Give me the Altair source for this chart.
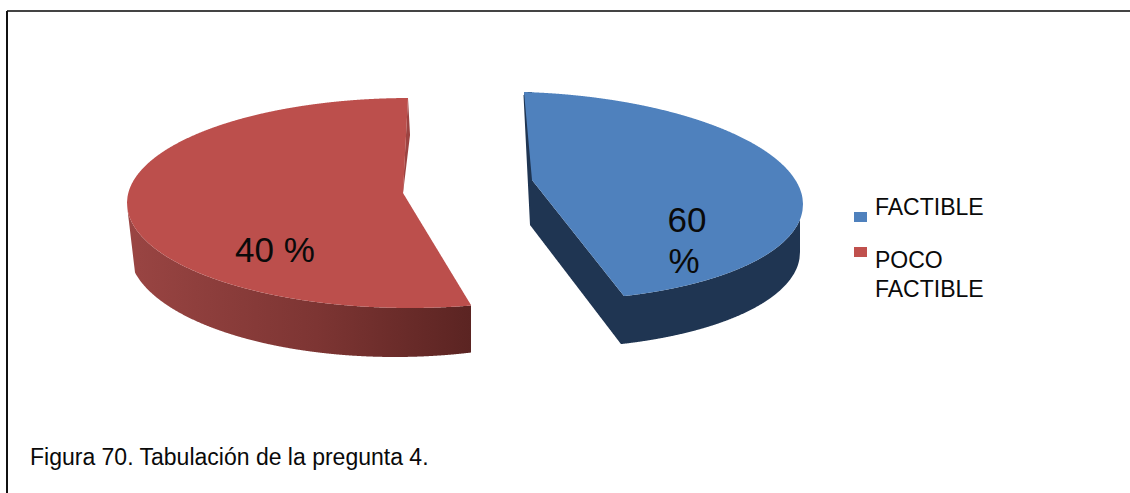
import numpy as np
import pandas as pd
import altair as alt

# Pie slices and legend entries
categories = ["FACTIBLE", "POCO FACTIBLE"]
shares = [60, 40]
slice_labels = ["60", "%", "40 %"]
caption = "Figura 70. Tabulación de la pregunta 4."

# Angular extent of each slice rim, degrees clockwise from twelve o'clock
blue_span = [0, 159]
red_span = [167.5, 359.6]

BLUE_FACE = "#4F81BD"
BLUE_WALL = "#1F3552"
RED_FACE = "#BC4F4C"
RED_SLIVER = "#9C4341"
FONT = "Liberation Sans"
W, H = 1130, 493

x_scale = alt.Scale(domain=[0, W], range=[0, W], nice=False, zero=False)
y_scale = alt.Scale(domain=[0, H], range=[0, H], nice=False, zero=False)


def rim(cx, cy, rx, ry, t0, t1, shear=0.0, n=240):
    """Outline of a tilted disc between two clock angles."""
    t = np.radians(np.linspace(t0, t1, n))
    x = cx + rx * np.sin(t)
    y = cy - ry * np.cos(t) + shear * (x - cx)
    return x, y


def along(px, py, xs):
    """Height of a polyline at the given x positions."""
    order = np.argsort(px)
    return np.interp(xs, np.asarray(px)[order], np.asarray(py)[order])


def band(xs, top, bottom):
    return pd.DataFrame({"x": xs, "y": top, "y2": bottom})


def area(df, fill):
    return alt.Chart(df).mark_area(color=fill, interpolate="linear", opacity=1).encode(
        x=alt.X("x:Q", scale=x_scale, axis=None),
        y=alt.Y("y:Q", scale=y_scale, axis=None),
        y2="y2:Q",
    )


# ---- blue slice ----
B = dict(cx=524, cy=196, rx=279, ry=104, shear=0.03)
B_bottom = dict(cx=521, cy=244, rx=279, ry=104, shear=0.03)
b_apex = (532, 180)
bx, by = rim(**B, t0=blue_span[0], t1=blue_span[1])
b_start = (bx[0], by[0])
b_corner = (bx[-1], by[-1])
right = int(np.argmax(bx))

xs = np.arange(b_start[0], bx[right] + 0.01, 0.5)
b_upper = along(bx[: right + 1], by[: right + 1], xs)
b_lower = np.where(
    xs <= b_apex[0],
    along([b_start[0], b_apex[0]], [b_start[1], b_apex[1]], xs),
    np.where(
        xs <= b_corner[0],
        along([b_apex[0], b_corner[0]], [b_apex[1], b_corner[1]], xs),
        along(bx[right:], by[right:], xs),
    ),
)
blue_face = band(xs, b_upper, b_lower)

wx, wy = rim(**B_bottom, t0=blue_span[0], t1=blue_span[1])
wright = int(np.argmax(wx))
b_floor = (b_corner[0] - 3, b_corner[1] + 48)
b_drop = (530, 225)
xw = np.arange(b_start[0] - 0.5, wx[wright] + 0.01, 0.5)
w_lower = np.where(
    xw <= b_drop[0],
    along([b_start[0] - 0.5, b_drop[0]], [b_start[1] + 3, b_drop[1]], xw),
    np.where(
        xw <= b_floor[0],
        along([b_drop[0], b_floor[0]], [b_drop[1], b_floor[1]], xw),
        along(wx[wright:], wy[wright:], xw),
    ),
)
w_upper = np.where(xw <= b_apex[0], b_start[1], along(xs, b_lower, xw))
w_upper = np.where(xw <= b_start[0], b_start[1] + 3, w_upper)
blue_wall = band(xw, w_upper, w_lower)

# ---- red slice ----
R = dict(cx=410, cy=203, rx=283, ry=105)
R_bottom = dict(cx=395, cy=250, rx=266, ry=107)
r_apex = (403, 193)
rx_, ry_ = rim(**R, t0=red_span[0], t1=red_span[1])
left = int(np.argmin(rx_))
r_corner = (rx_[0], ry_[0])
r_top = (rx_[-1], ry_[-1])

xa = np.arange(rx_[left], r_top[0] + 0.01, 0.5)
a_upper = along(rx_[left:], ry_[left:], xa)
a_lower = np.where(
    xa <= r_apex[0],
    along(rx_[: left + 1], ry_[: left + 1], xa),
    along([r_apex[0], r_top[0]], [r_apex[1], r_top[1]], xa),
)
red_face_a = band(xa, a_upper, a_lower)

# Lower lobe of the red face; starts left of the apex so the two parts overlap
xb = np.arange(r_apex[0] - 3, r_corner[0] + 0.01, 0.5)
red_face_b = band(
    xb,
    along([r_apex[0], r_corner[0]], [r_apex[1], r_corner[1]], xb),
    along(rx_[: left + 1], ry_[: left + 1], xb),
)

# Thin inner wall showing beside the upper cut of the red slice
xs_r = np.arange(r_apex[0], r_top[0] + 2.01, 0.25)
sliver_top = along([r_apex[0], r_top[0], r_top[0] + 2], [r_apex[1] - 4, r_top[1], 135], xs_r)
sliver_bottom = along([r_apex[0], r_top[0] + 2], [r_apex[1], 135], xs_r)
red_sliver = band(xs_r, np.minimum(sliver_top, sliver_bottom), sliver_bottom)

# Outer wall of the red slice, shaded from left to right
xr = np.arange(rx_[left], r_corner[0] + 0.01, 0.5)
r_wall_top = along(rx_[: left + 1], ry_[: left + 1], xr)
wrx, wry = rim(**R_bottom, t0=red_span[0] - 10, t1=270)
r_floor = along(wrx, wry, xr)
r_wall_bottom = np.where(xr < 135, along([rx_[left], 135], [r_wall_top[0] + 3, 272.5], xr), r_floor)
red_wall = band(xr, r_wall_top, r_wall_bottom)
red_wall_mark = alt.Chart(red_wall).mark_area(
    opacity=1,
    color=alt.Gradient(
        gradient="linear",
        x1=0, x2=1, y1=0, y2=0,
        stops=[
            alt.GradientStop(color="#9A4543", offset=0),
            alt.GradientStop(color="#8F3F3D", offset=0.2),
            alt.GradientStop(color="#7D3533", offset=0.55),
            alt.GradientStop(color="#5B2422", offset=1),
        ],
    ),
).encode(
    x=alt.X("x:Q", scale=x_scale, axis=None),
    y=alt.Y("y:Q", scale=y_scale, axis=None),
    y2="y2:Q",
)

# ---- figure frame: top and left edges only ----
top_edge = pd.DataFrame({"x": [7], "x2": [W], "y": [11]})
left_edge = pd.DataFrame({"x": [7], "y": [11], "y2": [H]})
top_mark = alt.Chart(top_edge).mark_rule(color="#444444", strokeWidth=2).encode(
    x=alt.X("x:Q", scale=x_scale, axis=None),
    x2="x2:Q",
    y=alt.Y("y:Q", scale=y_scale, axis=None),
)
left_mark = alt.Chart(left_edge).mark_rule(color="#111111", strokeWidth=2).encode(
    x=alt.X("x:Q", scale=x_scale, axis=None),
    y=alt.Y("y:Q", scale=y_scale, axis=None),
    y2="y2:Q",
)

# ---- legend ----
legend_keys = pd.DataFrame(
    {
        "x": [854, 854],
        "x2": [867, 867],
        "y": [212, 247],
        "y2": [222, 257],
        "category": categories,
    }
)
keys_mark = alt.Chart(legend_keys).mark_rect().encode(
    x=alt.X("x:Q", scale=x_scale, axis=None),
    x2="x2:Q",
    y=alt.Y("y:Q", scale=y_scale, axis=None),
    y2="y2:Q",
    color=alt.Color(
        "category:N",
        scale=alt.Scale(domain=categories, range=[BLUE_FACE, "#C0504D"]),
        legend=None,
    ),
)

legend_words = categories[1].split(" ")
texts = pd.DataFrame(
    [
        {"t": slice_labels[0], "x": 687, "y": 232, "s": 35, "a": "center"},
        {"t": slice_labels[1], "x": 684, "y": 273, "s": 35, "a": "center"},
        {"t": slice_labels[2], "x": 275, "y": 262, "s": 35, "a": "center"},
        {"t": categories[0], "x": 875, "y": 215, "s": 23, "a": "left"},
        {"t": legend_words[0], "x": 875, "y": 268, "s": 23, "a": "left"},
        {"t": legend_words[1], "x": 875, "y": 297, "s": 23, "a": "left"},
        {"t": caption, "x": 30, "y": 465, "s": 23, "a": "left"},
    ]
)


def text_layer(df, align):
    return alt.Chart(df).mark_text(
        font=FONT, baseline="alphabetic", align=align, color="#0A0A0A"
    ).encode(
        x=alt.X("x:Q", scale=x_scale, axis=None),
        y=alt.Y("y:Q", scale=y_scale, axis=None),
        text="t:N",
        size=alt.Size("s:Q", scale=None, legend=None),
    )


chart = alt.layer(
    top_mark,
    left_mark,
    red_wall_mark,
    area(red_sliver, RED_SLIVER),
    area(red_face_a, RED_FACE),
    area(red_face_b, RED_FACE),
    area(blue_wall, BLUE_WALL),
    area(blue_face, BLUE_FACE),
    keys_mark,
    text_layer(texts[texts.a == "center"], "center"),
    text_layer(texts[texts.a == "left"], "left"),
).properties(
    width=W, height=H, padding=0, background="white",
    autosize=alt.AutoSizeParams(type="none"),
).configure_view(stroke=None)

chart.save("out.html", embed_options={"renderer": "svg", "actions": False})
